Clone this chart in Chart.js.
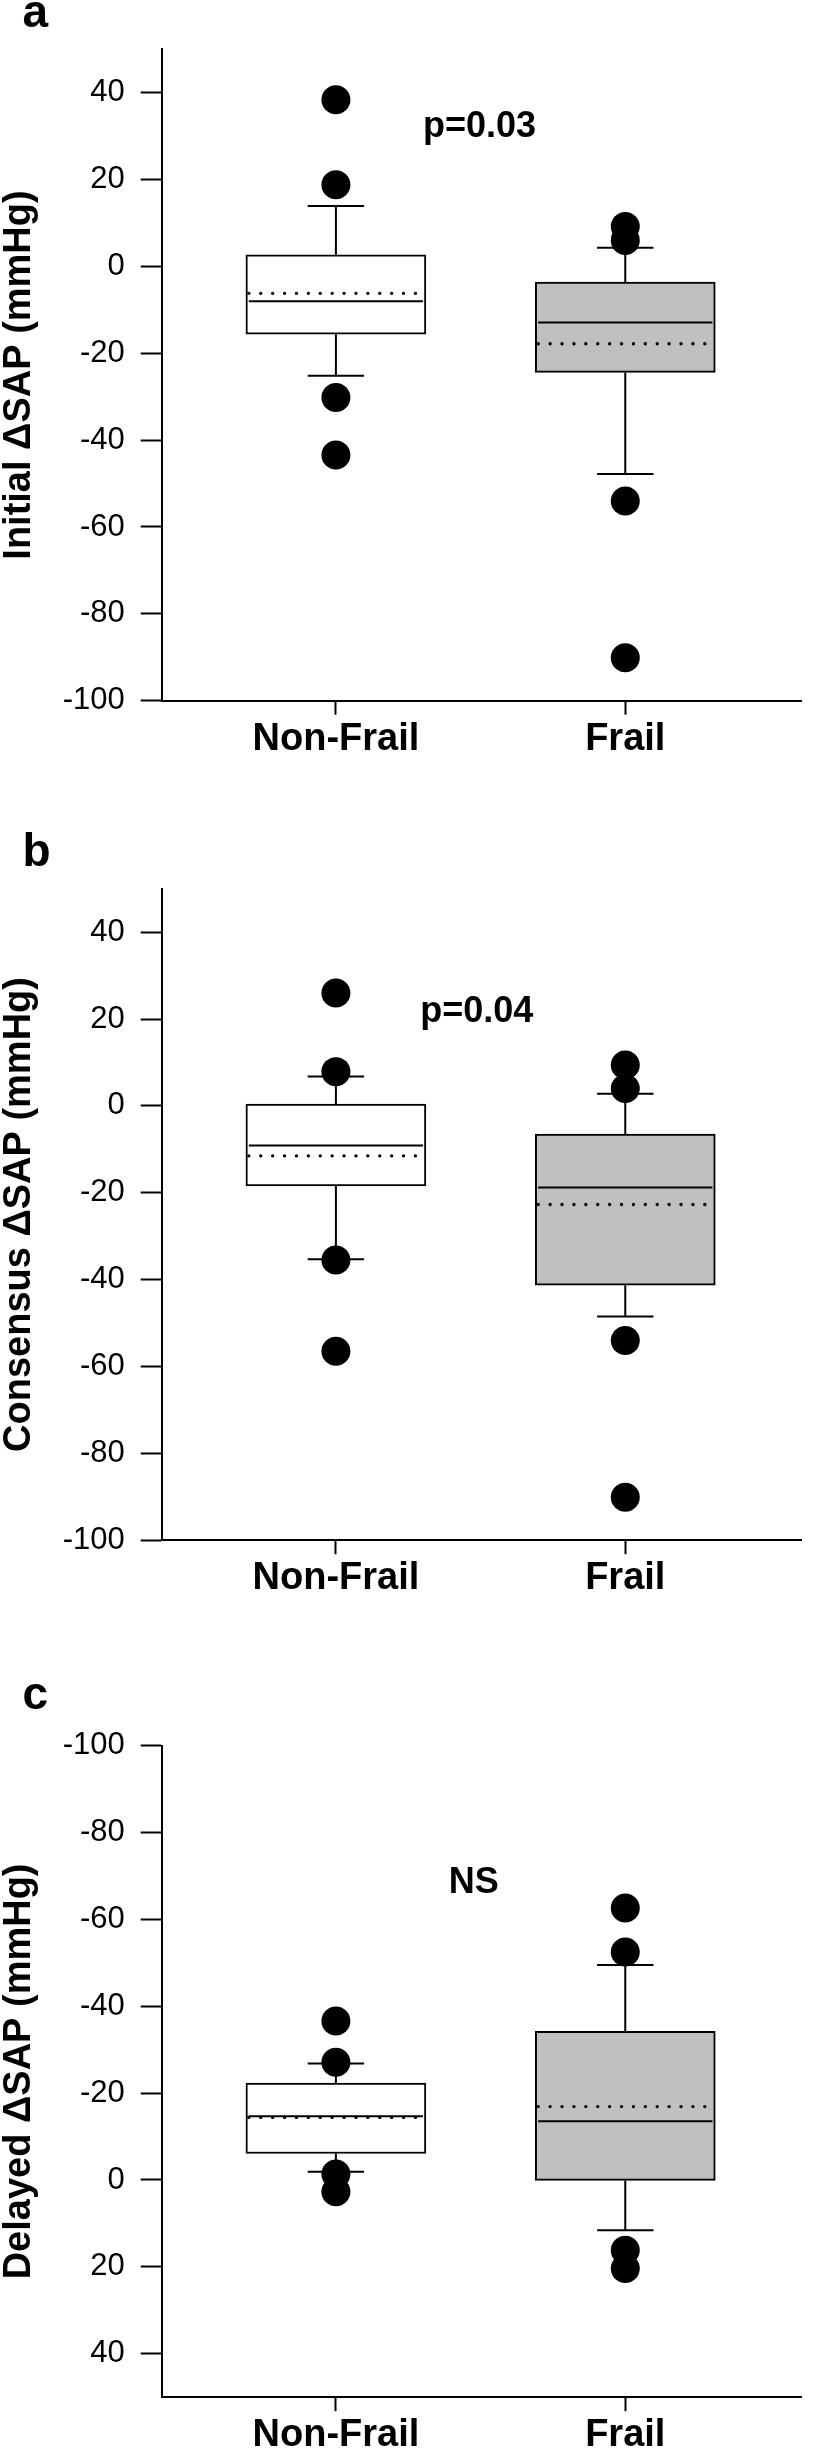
<!DOCTYPE html>
<html>
<head>
<meta charset="utf-8">
<script src="https://cdn.jsdelivr.net/npm/chart.js@4.4.1/dist/chart.umd.min.js"></script>
<style>
  html, body { margin: 0; padding: 0; background: #fff; }
  body { width: 816px; height: 2449px; position: relative; overflow: hidden; }
  canvas { position: absolute; left: 0; }
</style>
</head>
<body>
<canvas id="chartA" width="816" height="800" style="top:0px"></canvas>
<canvas id="chartB" width="816" height="800" style="top:820px"></canvas>
<canvas id="chartC" width="816" height="800" style="top:1680px"></canvas>
<script>
const FONT = "'Liberation Sans', Arial, Helvetica, sans-serif";
const categories = ['Non-Frail', 'Frail'];
const yTicks = [-100, -80, -60, -40, -20, 0, 20, 40];
const boxColors = ['#ffffff', '#c0c0c0'];

// a: Initial ΔSAP
const initialMin = [-25.2, -47.8];
const initialQ1 = [-15.6, -24.4];
const initialMedian = [-8.0, -12.9];
const initialMean = [-6.2, -17.8];
const initialQ3 = [2.7, -3.6];
const initialMax = [13.9, 4.3];
const initialOutliers = [[38.4, 18.8, -30.2, -43.4], [9.2, 6.0, -54.0, -90.1]];

// b: Consensus ΔSAP
const consensusMin = [-35.3, -48.5];
const consensusQ1 = [-18.4, -41.3];
const consensusMedian = [-9.1, -18.8];
const consensusMean = [-11.5, -22.7];
const consensusQ3 = [0.4, -6.5];
const consensusMax = [6.8, 2.8];
const consensusOutliers = [[26.0, 7.9, -35.5, -56.5], [9.4, 4.0, -54.0, -90.1]];

// c: Delayed ΔSAP (axis drawn reversed)
const delayedMin = [-26.8, -49.5];
const delayedQ1 = [-22.3, -34.2];
const delayedMedian = [-14.7, -13.5];
const delayedMean = [-14.4, -16.9];
const delayedQ3 = [-6.1, 0.1];
const delayedMax = [-1.9, 11.6];
const delayedOutliers = [[-36.6, -27.1, -1.4, 2.7], [-62.6, -52.5, 16.2, 20.4]];

const X_MIN = -0.602, X_MAX = 1.609;
const BOX_HALF = 0.301, CAP_HALF = 0.0975;
const AREA_H = 651.4;

// letters + p-values drawn on top
const panelText = {
  id: 'panelText',
  afterDraw(chart, args, o) {
    const { ctx } = chart;
    const x = chart.scales.x, y = chart.scales.y;
    ctx.save();
    ctx.fillStyle = '#000';
    ctx.textBaseline = 'alphabetic';
    ctx.font = 'bold 46px ' + FONT;
    ctx.textAlign = 'left';
    ctx.fillText(o.letter, 22.5, o.letterY);
    ctx.font = 'bold 36px ' + FONT;
    ctx.textAlign = 'center';
    ctx.fillText(o.note, x.getPixelForValue(o.noteX), y.getPixelForValue(o.noteY));
    ctx.restore();
  }
};

function seg(x0, y0, x1, y1, extra) {
  return Object.assign({
    type: 'line',
    data: [{ x: x0, y: y0 }, { x: x1, y: y1 }],
    borderColor: '#000', borderWidth: 2, pointRadius: 0, fill: false, order: 1
  }, extra || {});
}

function buildDatasets(p) {
  const ds = [{
    type: 'bar',
    data: categories.map((c, i) => ({ x: i, y: [p.q1[i], p.q3[i]] })),
    backgroundColor: boxColors,
    borderColor: '#000', borderWidth: 2, borderSkipped: false,
    barThickness: 180, order: 3
  }];
  categories.forEach((c, i) => {
    ds.push(seg(i, p.q3[i], i, p.max[i]));
    ds.push(seg(i, p.q1[i], i, p.min[i]));
    ds.push(seg(i - CAP_HALF, p.max[i], i + CAP_HALF, p.max[i]));
    ds.push(seg(i - CAP_HALF, p.min[i], i + CAP_HALF, p.min[i]));
    ds.push(seg(i - BOX_HALF, p.median[i], i + BOX_HALF, p.median[i]));
    ds.push(seg(i - BOX_HALF, p.mean[i], i + BOX_HALF, p.mean[i],
      { borderWidth: 3.3, borderDash: [0.1, 11.8], borderCapStyle: 'round' }));
  });
  ds.push({
    type: 'scatter',
    data: p.outliers.flatMap((vals, i) => vals.map(v => ({ x: i, y: v }))),
    pointRadius: 14.5, pointHoverRadius: 14.5,
    pointBackgroundColor: '#000', pointBorderWidth: 0, order: 0
  });
  return ds;
}

function makeChart(id, p) {
  const canvas = document.getElementById(id);
  const H = canvas.height;
  return new Chart(canvas, {
    type: 'scatter',
    data: { datasets: buildDatasets(p) },
    plugins: [panelText],
    options: {
      responsive: false,
      animation: false,
      devicePixelRatio: 1,
      events: [],
      layout: { padding: { top: p.top, left: 0, right: 0, bottom: 0 } },
      plugins: {
        legend: { display: false },
        tooltip: { enabled: false },
        panelText: { letter: p.letter, letterY: p.letterY, note: p.note, noteX: p.noteX, noteY: p.noteY }
      },
      scales: {
        x: {
          type: 'linear', min: X_MIN, max: X_MAX, offset: false,
          afterBuildTicks: s => { s.ticks = categories.map((c, i) => ({ value: i })); },
          afterFit: s => { s.height = H - p.top - AREA_H; },
          border: { display: true, color: '#000', width: 2 },
          grid: { display: true, offset: false, drawOnChartArea: false, drawTicks: true, tickLength: 14, tickWidth: 2, tickColor: '#000' },
          ticks: {
            autoSkip: false, maxRotation: 0, padding: 2, color: '#000',
            font: { family: FONT, size: 38, weight: 'bold', lineHeight: 1.2 },
            callback: v => categories[v]
          }
        },
        y: {
          type: 'linear', min: -100, max: 50, reverse: p.reverse,
          afterBuildTicks: s => { s.ticks = yTicks.map(v => ({ value: v })); },
          afterFit: s => { s.width = 161.7; },
          border: { display: true, color: '#000', width: 2 },
          grid: { display: true, drawOnChartArea: false, drawTicks: true, tickLength: 21, tickWidth: 2, tickColor: '#000' },
          ticks: {
            padding: 16, color: '#000',
            font: { family: FONT, size: 31 },
            callback: v => String(v)
          },
          title: {
            display: true, text: p.title, color: '#000',
            font: { family: FONT, size: 38, weight: 'bold', lineHeight: 1 },
            padding: { top: 1, bottom: 0 }
          }
        }
      }
    }
  });
}

makeChart('chartA', {
  min: initialMin, q1: initialQ1, median: initialMedian, mean: initialMean,
  q3: initialQ3, max: initialMax, outliers: initialOutliers,
  title: 'Initial ΔSAP (mmHg)', reverse: false, top: 49.3,
  letter: 'a', letterY: 27, note: 'p=0.03', noteX: 0.496, noteY: 29.9
});
makeChart('chartB', {
  min: consensusMin, q1: consensusQ1, median: consensusMedian, mean: consensusMean,
  q3: consensusQ3, max: consensusMax, outliers: consensusOutliers,
  title: 'Consensus ΔSAP (mmHg)', reverse: false, top: 68.8,
  letter: 'b', letterY: 46, note: 'p=0.04', noteX: 0.487, noteY: 19.3
});
makeChart('chartC', {
  min: delayedMin, q1: delayedQ1, median: delayedMedian, mean: delayedMean,
  q3: delayedQ3, max: delayedMax, outliers: delayedOutliers,
  title: 'Delayed ΔSAP (mmHg)', reverse: true, top: 65.7,
  letter: 'c', letterY: 28.5, note: 'NS', noteX: 0.476, noteY: -66.0
});
</script>
</body>
</html>
